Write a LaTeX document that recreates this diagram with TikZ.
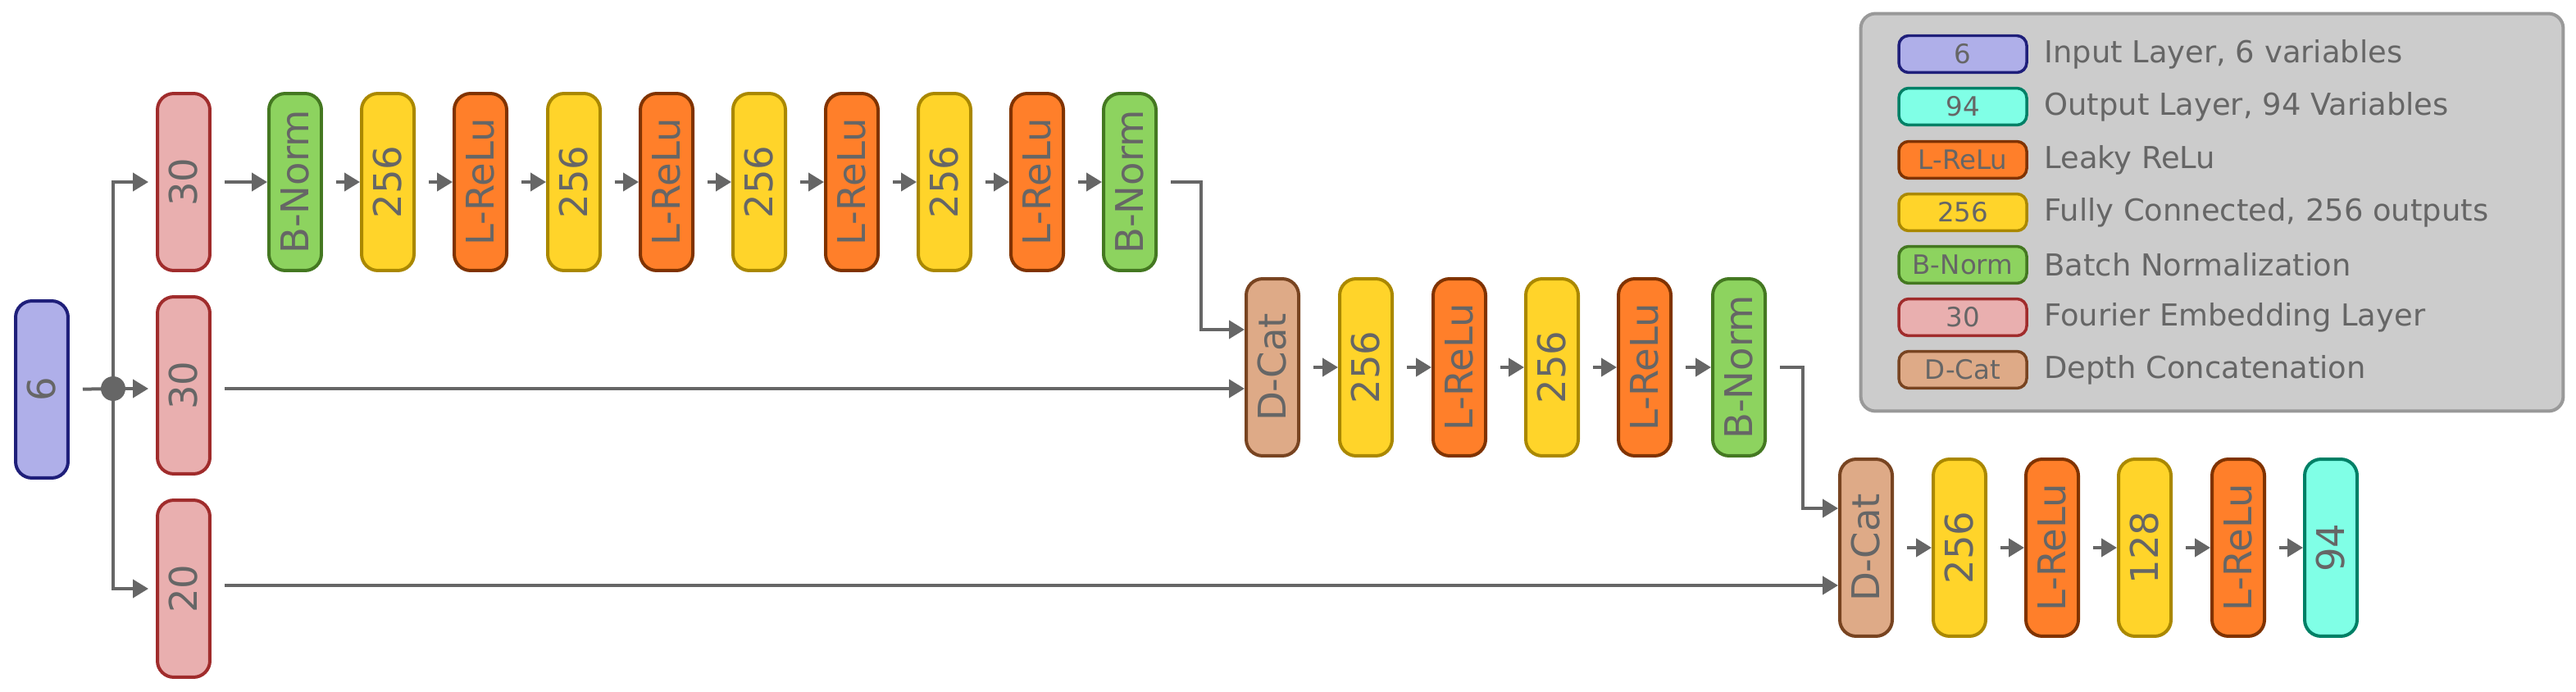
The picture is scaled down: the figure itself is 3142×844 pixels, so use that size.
\documentclass[tikz,border=0pt]{standalone}
\usepackage{fontspec}
\setmainfont{DejaVu Sans}
\usetikzlibrary{arrows.meta,calc}
\definecolor{txt}{HTML}{666666}
\definecolor{inF}{HTML}{AFAFE9}\definecolor{inD}{HTML}{1F1F7A}
\definecolor{outF}{HTML}{80FFE6}\definecolor{outD}{HTML}{008066}
\definecolor{reF}{HTML}{FF7F2A}\definecolor{reD}{HTML}{803300}
\definecolor{fcF}{HTML}{FFD42A}\definecolor{fcD}{HTML}{AA8800}
\definecolor{bnF}{HTML}{8DD35F}\definecolor{bnD}{HTML}{447821}
\definecolor{feF}{HTML}{E9AFAF}\definecolor{feD}{HTML}{A02C2C}
\definecolor{dcF}{HTML}{DEAA87}\definecolor{dcD}{HTML}{784421}
\begin{document}
\begin{tikzpicture}[x=0.02cm,y=-0.02cm,
  lay/.style={draw=#1D,fill=#1F,line width=0.08cm,rounded corners=0.4cm,minimum width=1.28cm,minimum height=4.32cm,inner sep=0pt,text=txt,font=\fontsize{26.5}{30}\selectfont},
  key/.style={draw=#1D,fill=#1F,line width=0.07cm,rounded corners=0.24cm,minimum width=3.12cm,minimum height=0.9cm,inner sep=0pt,text=txt,font=\fontsize{18.5}{20}\selectfont},
  ktxt/.style={anchor=west,text=txt,font=\fontsize{21}{24}\selectfont,inner sep=0pt},
  con/.style={draw=txt,line width=0.08cm},
  arr/.style={con,-{Triangle[length=0.38cm,width=0.44cm]}},
  sh/.style={shorten <=0.32cm}]
\useasboundingbox (0,0) rectangle (3142,844);
\newcommand{\R}[1]{\rotatebox{90}{#1}}
% input
\node[lay=in] (in) at (51,475) {\R{6}};
\coordinate (dot) at (138,474);
% fourier
\node[lay=fe] (f1) at (224,222) {\R{30}};
\node[lay=fe] (f2) at (224,470) {\R{30}};
\node[lay=fe] (f3) at (224,718) {\R{20}};
% top row
\node[lay=bn] (t1) at (360,222) {\R{B-Norm}};
\node[lay=fc] (t2) at (473,222) {\R{256}};
\node[lay=re] (t3) at (586,222) {\R{L-ReLu}};
\node[lay=fc] (t4) at (700,222) {\R{256}};
\node[lay=re] (t5) at (813,222) {\R{L-ReLu}};
\node[lay=fc] (t6) at (926,222) {\R{256}};
\node[lay=re] (t7) at (1039,222) {\R{L-ReLu}};
\node[lay=fc] (t8) at (1152,222) {\R{256}};
\node[lay=re] (t9) at (1265,222) {\R{L-ReLu}};
\node[lay=bn] (t10) at (1378,222) {\R{B-Norm}};
% middle row
\node[lay=dc] (m1) at (1552,448) {\R{D-Cat}};
\node[lay=fc] (m2) at (1666,448) {\R{256}};
\node[lay=re] (m3) at (1780,448) {\R{L-ReLu}};
\node[lay=fc] (m4) at (1893,448) {\R{256}};
\node[lay=re] (m5) at (2006,448) {\R{L-ReLu}};
\node[lay=bn] (m6) at (2121,448) {\R{B-Norm}};
% bottom row
\node[lay=dc] (b1) at (2276,668) {\R{D-Cat}};
\node[lay=fc] (b2) at (2390,668) {\R{256}};
\node[lay=re] (b3) at (2503,668) {\R{L-ReLu}};
\node[lay=fc] (b4) at (2616,668) {\R{128}};
\node[lay=re] (b5) at (2730,668) {\R{L-ReLu}};
\node[lay=out] (b6) at (2843,668) {\R{94}};
% connectors
\draw[con,sh] (in.east) -- (dot);
\draw[arr,shorten >=0.18cm] (dot) -- (dot -| f2.west);
\draw[arr,shorten >=0.18cm] (dot) |- (f1.west);
\draw[arr,shorten >=0.18cm] (dot) |- (f3.west);
\fill[txt] (dot) ellipse (0.3cm and 0.3cm);
\foreach \a/\b in {f1/t1,t1/t2,t2/t3,t3/t4,t4/t5,t5/t6,t6/t7,t7/t8,t8/t9,t9/t10,
  m1/m2,m2/m3,m3/m4,m4/m5,m5/m6,b1/b2,b2/b3,b3/b4,b4/b5,b5/b6}
  \draw[arr,sh] (\a.east) -- (\b.west);
\draw[arr,sh] (t10.east) -| ($(t10.east)!0.5!(m1.west)+(0,0)$) |- ($(m1.west)+(0,-46)$);
\draw[arr,sh] (f2.east |- 0,474) -- ($(m1.west)+(0,26)$);
\draw[arr,sh] (m6.east) -| ($(m6.east)!0.5!(b1.west)$) |- ($(b1.west)+(0,-48)$);
\draw[arr,sh] (f3.east |- 0,714) -- ($(b1.west)+(0,46)$);
% legend
\node[draw=black!40,fill=black!20,line width=0.08cm,rounded corners=0.36cm,minimum width=17.14cm,minimum height=9.7cm] (leg) at (2698,259) {};
\node[key=in] (k1) at (2394,66) {6};
\node[key=out] (k2) at (2394,130) {94};
\node[key=re] (k3) at (2394,195) {L-ReLu};
\node[key=fc] (k4) at (2394,259) {256};
\node[key=bn] (k5) at (2394,323) {B-Norm};
\node[key=fe] (k6) at (2394,387) {30};
\node[key=dc] (k7) at (2394,451) {D-Cat};
\node[ktxt] (l1) at (2493,66) {Input Layer, 6 variables};
\node[ktxt] (l2) at (2493,130) {Output Layer, 94 Variables};
\node[ktxt] (l3) at (2493,195) {Leaky ReLu};
\node[ktxt] (l4) at (2493,259) {Fully Connected, 256 outputs};
\node[ktxt] (l5) at (2493,323) {Batch Normalization};
\node[ktxt] (l6) at (2493,387) {Fourier Embedding Layer};
\node[ktxt] (l7) at (2493,451) {Depth Concatenation};
\end{tikzpicture}
\end{document}
